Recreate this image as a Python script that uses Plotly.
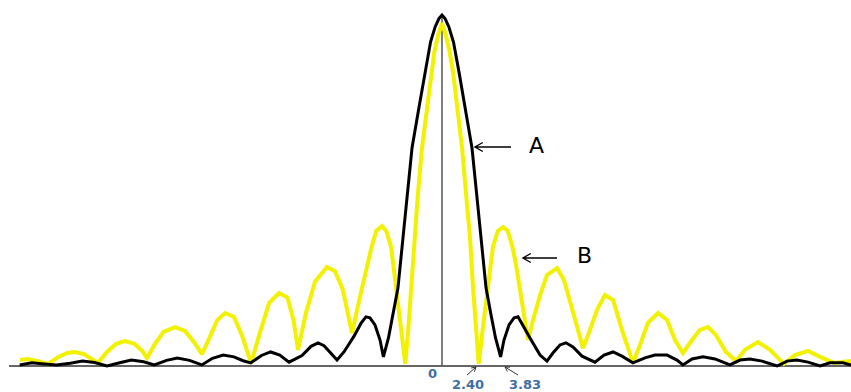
import math
import plotly.graph_objects as go

# ---- data (x in argument units, y normalised to the central peak) ----
black_x = [-27.6, -26.8, -26.0, -25.2, -24.3, -23.5, -22.7, -21.9, -21.0, -20.3, -19.5, -18.8,
           -18.0, -17.3, -16.5, -15.7, -15.0, -14.3, -13.6, -13.0, -12.5, -11.8, -11.2, -10.6,
           -10.0, -9.15, -8.56, -8.10, -7.71, -7.25, -6.86, -6.41, -5.75, -5.29, -4.97, -4.71,
           -4.38, -4.05, -3.83, -3.5, -3.2, -2.88, -2.55, -2.25, -1.96, -1.5, -1.11, -0.75,
           -0.45, -0.2,
           0.0,
           0.2, 0.45, 0.75, 1.11, 1.5, 1.96, 2.25, 2.55, 2.88, 3.2, 3.5, 3.83, 4.05, 4.38,
           4.71, 4.97, 5.29, 5.75, 6.41, 6.86, 7.25, 7.71, 8.10, 8.56, 9.15, 10.0, 10.59,
           11.18, 11.76, 12.48, 13.27, 13.92, 14.71, 15.36, 15.75, 16.34, 17.06, 17.84, 18.82,
           19.48, 20.13, 20.92, 21.90, 22.55, 23.20, 23.92, 24.71, 25.36, 26.21, 26.73]
black_y = [0.003, 0.009, 0.006, 0.003, 0.008, 0.014, 0.010, 0.000, 0.010, 0.017, 0.012, 0.003,
           0.016, 0.023, 0.016, 0.003, 0.022, 0.031, 0.026, 0.015, 0.009, 0.030, 0.040, 0.031,
           0.011, 0.030, 0.056, 0.066, 0.058, 0.036, 0.017, 0.040, 0.085, 0.122, 0.140, 0.137,
           0.117, 0.074, 0.026, 0.080, 0.147, 0.222, 0.365, 0.496, 0.621, 0.738, 0.838, 0.923,
           0.966, 0.990,
           1.000,
           0.990, 0.966, 0.923, 0.838, 0.738, 0.621, 0.496, 0.365, 0.222, 0.147, 0.080, 0.026,
           0.074, 0.117, 0.137, 0.140, 0.117, 0.080, 0.031, 0.014, 0.037, 0.060, 0.066, 0.054,
           0.028, 0.011, 0.031, 0.040, 0.028, 0.009, 0.023, 0.031, 0.031, 0.017, 0.003, 0.020,
           0.026, 0.020, 0.003, 0.017, 0.020, 0.014, 0.000, 0.014, 0.017, 0.011, 0.000, 0.009,
           0.009, 0.003]

yellow_x = [-27.58, -27.06, -26.4, -25.75, -25.1, -24.5, -23.99, -23.4, -22.9, -22.48, -21.9,
            -21.3, -20.72, -20.1, -19.6, -19.28, -18.8, -18.2, -17.45, -16.8, -16.2, -15.69,
            -15.2, -14.7, -14.18, -13.6, -13.1, -12.48, -11.9, -11.3, -10.65, -10.1, -9.7,
            -9.41, -8.9, -8.3, -7.52, -7.0, -6.5, -6.2, -5.88, -5.4, -4.9, -4.6, -4.3, -3.92,
            -3.65, -3.33, -3.0, -2.7, -2.40, -2.2, -2.03, -1.83, -1.6, -1.31, -1.0, -0.72,
            -0.5, -0.25,
            0.0,
            0.25, 0.5, 0.72, 1.0, 1.31, 1.6, 1.83, 2.03, 2.2, 2.40, 2.7, 3.0, 3.33, 3.65, 4.0,
            4.3, 4.6, 4.84, 5.23, 5.62, 5.95, 6.41, 6.86, 7.52, 7.97, 8.50, 9.22, 9.67, 10.13,
            10.65, 11.18, 11.76, 12.48, 12.94, 13.46, 14.12, 14.71, 15.23, 15.75, 16.34,
            16.86, 17.39, 17.91, 18.56, 19.22, 19.80, 20.65, 21.44, 22.35, 23.07, 23.92,
            24.71, 25.62, 26.73]
yellow_y = [0.017, 0.020, 0.014, 0.006, 0.025, 0.037, 0.040, 0.034, 0.020, 0.009, 0.040,
            0.063, 0.071, 0.063, 0.043, 0.023, 0.060, 0.097, 0.111, 0.100, 0.068, 0.034,
            0.080, 0.130, 0.151, 0.140, 0.090, 0.009, 0.095, 0.180, 0.208, 0.195, 0.130,
            0.046, 0.150, 0.240, 0.282, 0.270, 0.220, 0.160, 0.094, 0.190, 0.290, 0.340,
            0.385, 0.399, 0.385, 0.340, 0.222, 0.120, 0.006, 0.108, 0.222, 0.365, 0.476,
            0.621, 0.735, 0.838, 0.895, 0.943,
            0.977,
            0.943, 0.895, 0.838, 0.735, 0.621, 0.476, 0.365, 0.222, 0.108, 0.006, 0.120,
            0.222, 0.340, 0.385, 0.396, 0.385, 0.340, 0.288, 0.174, 0.074, 0.131, 0.202,
            0.259, 0.279, 0.245, 0.160, 0.051, 0.103, 0.160, 0.202, 0.188, 0.103, 0.009,
            0.060, 0.123, 0.151, 0.131, 0.074, 0.037, 0.074, 0.103, 0.111, 0.088, 0.040,
            0.014, 0.046, 0.068, 0.046, 0.006, 0.031, 0.043, 0.026, 0.009, 0.014]

tick_labels = ["0", "2.40", "3.83"]
curve_labels = ["A", "B"]

W, H = 851, 392


def px(x):
    return x / W


def py(y):
    return 1 - y / H


fig = go.Figure()
fig.add_trace(go.Scatter(x=yellow_x, y=yellow_y, mode="lines",
                         line=dict(color="#f2f200", width=4), hoverinfo="skip"))
fig.add_trace(go.Scatter(x=black_x, y=black_y, mode="lines",
                         line=dict(color="#000000", width=3), hoverinfo="skip"))

shapes = []
# axes
shapes.append(dict(type="line", xref="x", yref="y", x0=-28.3, x1=27.0, y0=0, y1=0,
                   line=dict(color="#333333", width=1.5), layer="below"))
shapes.append(dict(type="line", xref="x", yref="y", x0=0, x1=0, y0=0, y1=1.0,
                   line=dict(color="#555555", width=1.5), layer="below"))


def arrow(x0, y0, x1, y1, width=1.3, head=7, color="#000000"):
    # tail (x0,y0) -> head (x1,y1) in pixels, open chevron head
    ang = math.atan2(y1 - y0, x1 - x0)
    a1 = ang + math.radians(150)
    a2 = ang - math.radians(150)
    hx1, hy1 = x1 + head * math.cos(a1), y1 + head * math.sin(a1)
    hx2, hy2 = x1 + head * math.cos(a2), y1 + head * math.sin(a2)
    path = (f"M{px(x0)},{py(y0)} L{px(x1)},{py(y1)} "
            f"M{px(hx1)},{py(hy1)} L{px(x1)},{py(y1)} L{px(hx2)},{py(hy2)}")
    return dict(type="path", xref="paper", yref="paper", path=path,
                line=dict(color=color, width=width))


shapes.append(arrow(511, 147, 475, 147, width=1.4, head=9))
shapes.append(arrow(557, 258, 523, 258, width=1.4, head=9))
shapes.append(arrow(467, 375, 476, 367, width=1.0, head=5, color="#333333"))
shapes.append(arrow(518, 375, 505, 367, width=1.0, head=5, color="#333333"))

annotations = []
lab_font = dict(family="DejaVu Sans, sans-serif", size=13, color="#3f6f9f", weight="bold")
for txt, (x, y) in zip(tick_labels, [(432, 373), (468, 384), (525, 384)]):
    annotations.append(dict(text=txt, x=px(x), y=py(y), xref="paper", yref="paper",
                            showarrow=False, font=lab_font, xanchor="center", yanchor="middle"))
big_font = dict(family="DejaVu Sans, sans-serif", size=22, color="#000000")
for txt, (x, y) in zip(curve_labels, [(536, 145), (584, 255)]):
    annotations.append(dict(text=txt, x=px(x), y=py(y), xref="paper", yref="paper",
                            showarrow=False, font=big_font, xanchor="center", yanchor="middle"))

fig.update_layout(
    width=W, height=H,
    margin=dict(l=0, r=0, t=0, b=0),
    paper_bgcolor="white", plot_bgcolor="white",
    showlegend=False,
    xaxis=dict(visible=False, range=[-442 / 15.3, (851 - 442) / 15.3], fixedrange=True),
    yaxis=dict(visible=False, range=[(366 - 392) / 351, 366 / 351], fixedrange=True),
    shapes=shapes,
    annotations=annotations,
)

fig.write_html("out.html", config={"displayModeBar": False},
               post_script="document.body.style.margin='0';document.body.style.overflow='hidden';")
